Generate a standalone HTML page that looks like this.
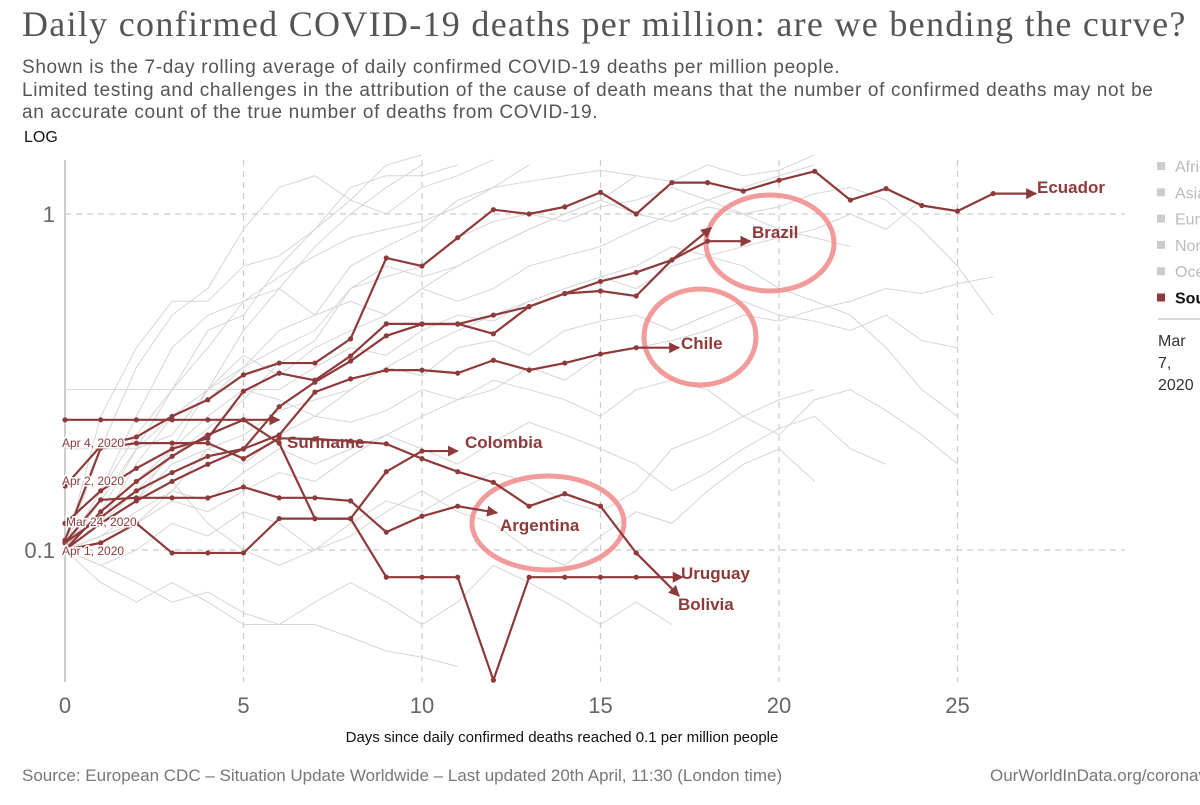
<!DOCTYPE html>
<html><head><meta charset="utf-8">
<style>
body{margin:0;background:#fff;width:1200px;height:805px;overflow:hidden;font-family:"Liberation Sans",sans-serif;}
#title{position:absolute;left:22px;top:3px;font-family:"Liberation Serif",serif;font-size:36px;letter-spacing:1.3px;color:#555;white-space:nowrap;}
.sub{position:absolute;left:22px;font-size:19px;letter-spacing:0.65px;color:#555;white-space:nowrap;}
#log{position:absolute;left:24px;top:129px;font-size:16px;color:#111;}
#foot-left{position:absolute;left:22px;top:766px;font-size:17px;letter-spacing:0px;color:#777;white-space:nowrap;}
#foot-right{position:absolute;left:990px;top:766px;font-size:17px;color:#777;white-space:nowrap;}
svg{position:absolute;left:0;top:0;}
</style></head><body>
<div id="title">Daily confirmed COVID-19 deaths per million: are we bending the curve?</div>
<div class="sub" style="top:57px">Shown is the 7-day rolling average of daily confirmed COVID-19 deaths per million people.</div>
<div class="sub" style="top:80px">Limited testing and challenges in the attribution of the cause of death means that the number of confirmed deaths may not be</div>
<div class="sub" style="top:102px">an accurate count of the true number of deaths from COVID-19.</div>
<div id="log">LOG</div>
<div id="foot-left">Source: European CDC – Situation Update Worldwide – Last updated 20th April, 11:30 (London time)</div>
<div id="foot-right">OurWorldInData.org/coronavirus</div>
<svg id="chart" width="1200" height="805"></svg>
<script>
const xTicks=[0,5,10,15,20,25];
const yTicks=[1,0.1];
const yTickLabels=["1","0.1"];
const names=["Ecuador","Brazil","Peru","Chile","Suriname","Colombia","Argentina","Bolivia","Uruguay"];
const ecuador=[0.155,0.204,0.217,0.25,0.28,0.332,0.36,0.36,0.425,0.74,0.70,0.85,1.03,1.0,1.05,1.16,1.0,1.24,1.24,1.17,1.26,1.34,1.10,1.19,1.06,1.02,1.15];
const brazil=[0.105,0.125,0.15,0.17,0.19,0.20,0.267,0.316,0.365,0.434,0.47,0.47,0.50,0.53,0.58,0.63,0.67,0.73,0.83];
const peru=[0.12,0.15,0.175,0.20,0.215,0.297,0.336,0.32,0.378,0.471,0.471,0.471,0.44,0.53,0.58,0.59,0.57,0.73];
const chile=[0.10,0.12,0.14,0.16,0.18,0.20,0.22,0.295,0.323,0.343,0.343,0.336,0.367,0.343,0.36,0.383,0.40];
const suriname=[0.244,0.244,0.244,0.244,0.244,0.244];
const colombia=[0.10,0.105,0.12,0.098,0.098,0.098,0.124,0.124,0.124,0.171,0.197];
const argentina=[0.105,0.141,0.143,0.143,0.143,0.154,0.143,0.143,0.140,0.113,0.126,0.135];
const bolivia=[0.107,0.201,0.208,0.208,0.208,0.187,0.215,0.214,0.211,0.207,0.187,0.171,0.159,0.135,0.147,0.135,0.098];
const uruguay=[0.10,0.13,0.16,0.19,0.22,0.244,0.208,0.124,0.124,0.083,0.083,0.083,0.041,0.083,0.083,0.083,0.083];
const arrowDay=[27.2,19.2,18.1,17.2,6.0,11.0,12.1,17.2,17.3];
const arrowVal=[1.15,0.83,0.91,0.40,0.244,0.197,0.129,0.073,0.083];
const grey=[
[0.1,0.2,0.35,0.5,0.6,0.9,1.2,1.3,1.1,1.4,1.5],
[0.1,0.25,0.4,0.55,0.55,0.7,0.75,0.9,1.2,1.3,1.3,1.4],
[0.1,0.15,0.22,0.3,0.4,0.55,0.6,0.5,0.7,0.8,0.9,1.1,1.2,1.4],
[0.1,0.12,0.18,0.25,0.28,0.35,0.45,0.5,0.55,0.5,0.6,0.7,0.8,0.9,1.0,1.1,1.3],
[0.1,0.14,0.2,0.22,0.3,0.38,0.33,0.4,0.45,0.5,0.6,0.55,0.6,0.7,0.75,0.8,0.9,1.0,1.1,1.2,1.3,1.4],
[0.1,0.13,0.16,0.2,0.25,0.3,0.3,0.35,0.4,0.38,0.45,0.5,0.48,0.55,0.6,0.65,0.6,0.7,0.75,0.8,0.85,0.9,1.0,0.9,1.1],
[0.1,0.11,0.13,0.15,0.2,0.22,0.26,0.28,0.3,0.35,0.33,0.4,0.42,0.38,0.45,0.48,0.5,0.45,0.5,0.55,0.5,0.48,0.45,0.5,0.42,0.4],
[0.1,0.12,0.14,0.18,0.2,0.18,0.22,0.25,0.24,0.26,0.3,0.28,0.32,0.3,0.28,0.25,0.3,0.32,0.3,0.25,0.22,0.28,0.3,0.26,0.22,0.18],
[0.1,0.11,0.12,0.15,0.14,0.17,0.2,0.18,0.2,0.22,0.2,0.18,0.21,0.24,0.22,0.2,0.18,0.15,0.17,0.2,0.23,0.25,0.2,0.18],
[0.1,0.09,0.1,0.12,0.11,0.13,0.12,0.1,0.11,0.13,0.15,0.13,0.12,0.1,0.09,0.11,0.13,0.12,0.15,0.18,0.2,0.16],
[0.1,0.08,0.07,0.08,0.07,0.06,0.06,0.07,0.08,0.07,0.06,0.07,0.09,0.08,0.07,0.06,0.07,0.06],
[0.1,0.09,0.08,0.07,0.075,0.065,0.06,0.06,0.055,0.05,0.048,0.045],
[0.1,0.12,0.14,0.2,0.3,0.45,0.6,0.8,1.0,1.2,1.4],
[0.1,0.13,0.2,0.3,0.45,0.5,0.7,0.9,1.1,1.0,1.2,1.3,1.45],
[0.1,0.12,0.15,0.19,0.23,0.28,0.36,0.42,0.6,0.65,0.7,0.85,0.95,1.0,0.95,1.05,1.1,1.2,1.1,1.0,1.05,1.15,1.2,1.1,0.9,0.7,0.5],
[0.1,0.11,0.12,0.14,0.13,0.15,0.17,0.16,0.19,0.22,0.25,0.28,0.3,0.35,0.32,0.38,0.4,0.42,0.45,0.5,0.48,0.52,0.55,0.6,0.58,0.62,0.65],
[0.3,0.3,0.3,0.3,0.3,0.3,0.28,0.25,0.3,0.35,0.4,0.45,0.5,0.55,0.6,0.65,0.7,0.8,0.75,0.7,0.6,0.55,0.5,0.4,0.3,0.25],
[0.2,0.2,0.2,0.25,0.3,0.35,0.4,0.45,0.6,0.7,0.65,0.7,0.8,0.9,1.0,1.1,1.0,0.95,1.05,1.0,0.9,0.85,0.8],
[0.12,0.12,0.14,0.16,0.12,0.1,0.09,0.1,0.12,0.14,0.13,0.15,0.17,0.16,0.14,0.13,0.15,0.2,0.22,0.25,0.28,0.3],
[0.1,0.15,0.25,0.4,0.5,0.55,0.65,0.75,0.85,0.9,0.95,1.05,1.2,1.25,1.3,1.35,1.3,1.25,1.4,1.3,1.35,1.5]
];
const legendItems=["Africa","Asia","Europe","North America","Oceania","South America"];

const NS="http://www.w3.org/2000/svg";
const svg=document.getElementById('chart');
const X0=65,DX=35.7,Y1=214,DEC=336;
function xs(d){return X0+d*DX;}
function ys(v){return Y1-Math.log10(v)*DEC;}
function mk(t,a,p){const e=document.createElementNS(NS,t);for(const k in a)e.setAttribute(k,a[k]);(p||svg).appendChild(e);return e;}
const RED="#8e3a3a";
mk('defs',{}).innerHTML='<marker id="ar" viewBox="0 0 10 10" refX="9" refY="5" markerWidth="5" markerHeight="5" orient="auto"><path d="M0,0L10,5L0,10z" fill="'+RED+'"/></marker><clipPath id="cp"><rect x="0" y="150" width="1140" height="540"/></clipPath>';
xTicks.forEach(t=>{
  if(t>0){const g=mk('line',{x1:xs(t),x2:xs(t),y1:160,y2:682,stroke:'#ccc','stroke-dasharray':'6,5','stroke-width':1.2});
  }
  const l=mk('text',{x:xs(t),y:713,'text-anchor':'middle','font-size':22,fill:'#666','font-family':'Liberation Sans, sans-serif'});
  l.textContent=t;
});
yTicks.forEach((t,i)=>{
  const g=mk('line',{x1:X0,x2:1125,y1:ys(t),y2:ys(t),stroke:'#ccc','stroke-dasharray':'6,5','stroke-width':1.2});
  
  const l=mk('text',{x:55,y:ys(t)+8,'text-anchor':'end','font-size':22,fill:'#666','font-family':'Liberation Sans, sans-serif'});
  l.textContent=yTickLabels[i];
});
const ax=mk('line',{x1:X0,x2:X0,y1:160,y2:682,stroke:'#ccc','stroke-width':2});

const gg=mk('g',{'clip-path':'url(#cp)'});
grey.forEach(s=>{
  const p=mk('polyline',{points:s.map((v,i)=>xs(i)+','+ys(v)).join(' '),fill:'none',stroke:'#d6d6d6','stroke-width':1},gg);
  
});
[[770,243,64,48],[700,337,56,48],[548,523,76,47]].forEach(c=>{
  const e=mk('ellipse',{cx:c[0],cy:c[1],rx:c[2],ry:c[3],fill:'none',stroke:'#f08a8a','stroke-width':5,opacity:0.85});
  
});
const series=[ecuador,brazil,peru,chile,suriname,colombia,argentina,bolivia,uruguay];
const labelPos=[[1037,193],[752,238],null,[681,349],[287,448],[465,448],[500,531],[678,610],[681,579]];
series.forEach((s,k)=>{
  const g=mk('g',{});
  
  
  mk('polyline',{points:s.map((v,i)=>xs(i)+','+ys(v)).join(' '),fill:'none',stroke:RED,'stroke-width':2.2,'stroke-linejoin':'round'},g);
  mk('line',{x1:xs(s.length-1),y1:ys(s[s.length-1]),x2:xs(arrowDay[k]),y2:ys(arrowVal[k]),stroke:RED,'stroke-width':2.2,'marker-end':'url(#ar)'},g);
  s.forEach((v,i)=>{const c=mk('circle',{cx:xs(i),cy:ys(v),r:2.6,fill:RED},g);
    });
  if(labelPos[k]){const t=mk('text',{x:labelPos[k][0],y:labelPos[k][1],'font-size':17,'font-weight':'bold',fill:RED,'font-family':'Liberation Sans, sans-serif'},g);
    t.textContent=names[k];}
});
[["Apr 4, 2020",62,447],["Apr 2, 2020",62,485],["Mar 24, 2020",66,526],["Apr 1, 2020",62,555]].forEach(d=>{
  const t=mk('text',{x:d[1],y:d[2],'font-size':12,fill:RED,'font-family':'Liberation Sans, sans-serif',stroke:'#fff','stroke-width':3,'paint-order':'stroke'});
  t.textContent=d[0];
});
legendItems.forEach((n,i)=>{
  const y=167+i*26.3;const act=i===5;
  const r=mk('rect',{x:1157,y:y-5,width:8,height:8,fill:act?RED:'#ccc'});
  
  const t=mk('text',{x:1175,y:y+5,'font-size':16,fill:act?'#111':'#bbb','font-weight':act?'bold':'normal','font-family':'Liberation Sans, sans-serif'});
  t.textContent=n;
});
const sep=mk('line',{x1:1158,x2:1200,y1:319,y2:319,stroke:'#ccc','stroke-width':1.5});

["Mar","7,","2020"].forEach((s,i)=>{const t=mk('text',{x:1158,y:346+i*22,'font-size':16,fill:'#333','font-family':'Liberation Sans, sans-serif'});
  t.textContent=s;});
const xt=mk('text',{x:562,y:742,'text-anchor':'middle','font-size':15,fill:'#111','font-family':'Liberation Sans, sans-serif'});
xt.textContent="Days since daily confirmed deaths reached 0.1 per million people";

</script>
</body></html>
